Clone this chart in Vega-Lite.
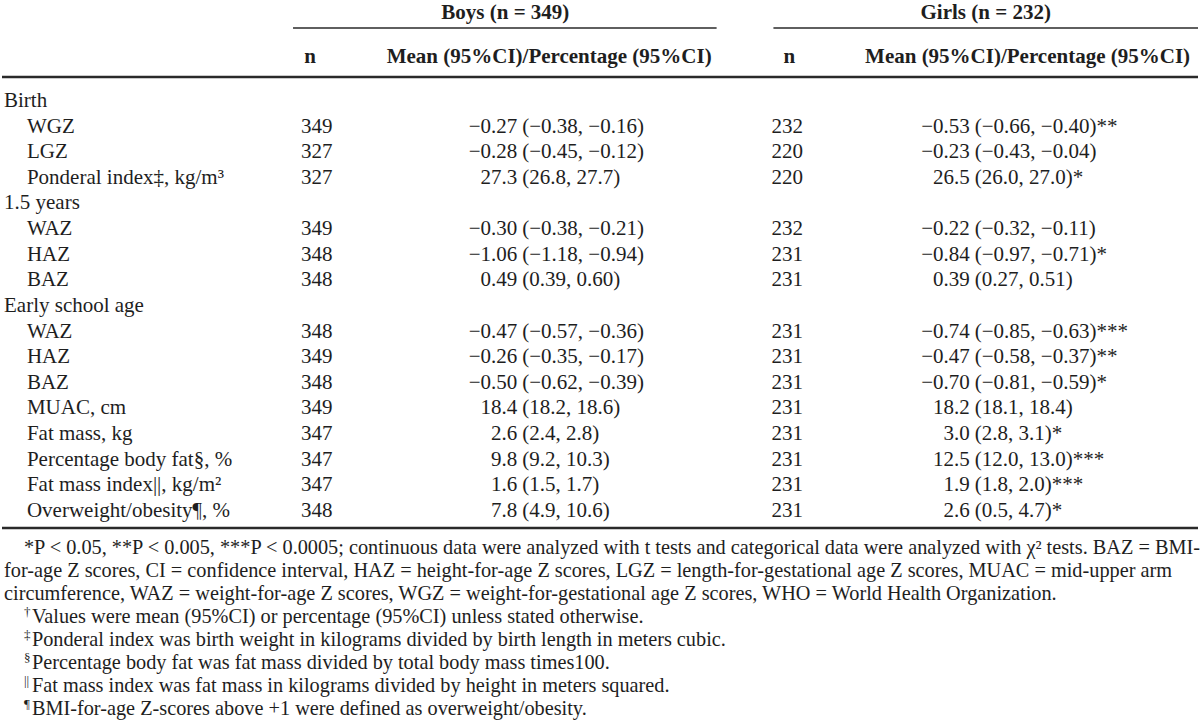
{
  "$schema": "https://vega.github.io/schema/vega-lite/v6.json",
  "width": 1200,
  "height": 720,
  "padding": 0,
  "autosize": {"type": "fit", "contains": "padding"},
  "background": "white",
  "config": {
    "view": {"stroke": null},
    "text": {"font": "Liberation Serif", "fontSize": 21, "color": "#1e1e1e", "baseline": "middle"}
  },
  "resolve": {"scale": {"y": "independent"}},
  "datasets": {
    "rows": [
      {"i": 0, "level": "group", "label": "Birth"},
      {"i": 1, "level": "item", "label": "WGZ", "bn": "349", "b1": "−0.27", "b2": "(−0.38, −0.16)", "gn": "232", "g1": "−0.53", "g2": "(−0.66, −0.40)**"},
      {"i": 2, "level": "item", "label": "LGZ", "bn": "327", "b1": "−0.28", "b2": "(−0.45, −0.12)", "gn": "220", "g1": "−0.23", "g2": "(−0.43, −0.04)"},
      {"i": 3, "level": "item", "label": "Ponderal index‡, kg/m³", "bn": "327", "b1": "27.3", "b2": "(26.8, 27.7)", "gn": "220", "g1": "26.5", "g2": "(26.0, 27.0)*"},
      {"i": 4, "level": "group", "label": "1.5 years"},
      {"i": 5, "level": "item", "label": "WAZ", "bn": "349", "b1": "−0.30", "b2": "(−0.38, −0.21)", "gn": "232", "g1": "−0.22", "g2": "(−0.32, −0.11)"},
      {"i": 6, "level": "item", "label": "HAZ", "bn": "348", "b1": "−1.06", "b2": "(−1.18, −0.94)", "gn": "231", "g1": "−0.84", "g2": "(−0.97, −0.71)*"},
      {"i": 7, "level": "item", "label": "BAZ", "bn": "348", "b1": "0.49", "b2": "(0.39, 0.60)", "gn": "231", "g1": "0.39", "g2": "(0.27, 0.51)"},
      {"i": 8, "level": "group", "label": "Early school age"},
      {"i": 9, "level": "item", "label": "WAZ", "bn": "348", "b1": "−0.47", "b2": "(−0.57, −0.36)", "gn": "231", "g1": "−0.74", "g2": "(−0.85, −0.63)***"},
      {"i": 10, "level": "item", "label": "HAZ", "bn": "349", "b1": "−0.26", "b2": "(−0.35, −0.17)", "gn": "231", "g1": "−0.47", "g2": "(−0.58, −0.37)**"},
      {"i": 11, "level": "item", "label": "BAZ", "bn": "348", "b1": "−0.50", "b2": "(−0.62, −0.39)", "gn": "231", "g1": "−0.70", "g2": "(−0.81, −0.59)*"},
      {"i": 12, "level": "item", "label": "MUAC, cm", "bn": "349", "b1": "18.4", "b2": "(18.2, 18.6)", "gn": "231", "g1": "18.2", "g2": "(18.1, 18.4)"},
      {"i": 13, "level": "item", "label": "Fat mass, kg", "bn": "347", "b1": "2.6", "b2": "(2.4, 2.8)", "gn": "231", "g1": "3.0", "g2": "(2.8, 3.1)*"},
      {"i": 14, "level": "item", "label": "Percentage body fat§, %", "bn": "347", "b1": "9.8", "b2": "(9.2, 10.3)", "gn": "231", "g1": "12.5", "g2": "(12.0, 13.0)***"},
      {"i": 15, "level": "item", "label": "Fat mass index||, kg/m²", "bn": "347", "b1": "1.6", "b2": "(1.5, 1.7)", "gn": "231", "g1": "1.9", "g2": "(1.8, 2.0)***"},
      {"i": 16, "level": "item", "label": "Overweight/obesity¶, %", "bn": "348", "b1": "7.8", "b2": "(4.9, 10.6)", "gn": "231", "g1": "2.6", "g2": "(0.5, 4.7)*"}
    ],
    "notes": [
      {"j": 0, "kind": "lead", "text": "*P < 0.05, **P < 0.005, ***P < 0.0005; continuous data were analyzed with t tests and categorical data were analyzed with χ² tests. BAZ = BMI-"},
      {"j": 1, "kind": "cont", "text": "for-age Z scores, CI = confidence interval, HAZ = height-for-age Z scores, LGZ = length-for-gestational age Z scores, MUAC = mid-upper arm"},
      {"j": 2, "kind": "cont", "text": "circumference, WAZ = weight-for-age Z scores, WGZ = weight-for-gestational age Z scores, WHO = World Health Organization."},
      {"j": 3, "kind": "sym", "sym": "†", "text": "Values were mean (95%CI) or percentage (95%CI) unless stated otherwise."},
      {"j": 4, "kind": "sym", "sym": "‡", "text": "Ponderal index was birth weight in kilograms divided by birth length in meters cubic."},
      {"j": 5, "kind": "sym", "sym": "§", "text": "Percentage body fat was fat mass divided by total body mass times100."},
      {"j": 6, "kind": "sym", "sym": "||", "text": "Fat mass index was fat mass in kilograms divided by height in meters squared."},
      {"j": 7, "kind": "sym", "sym": "¶", "text": "BMI-for-age Z-scores above +1 were defined as overweight/obesity."}
    ]
  },
  "layer": [
    {
      "data": {"name": "rows"},
      "transform": [{"filter": "datum.level === 'group'"}],
      "mark": {"type": "text", "align": "left"},
      "encoding": {
        "x": {"datum": 2, "type": "quantitative", "scale": {"domain": [0, 1200], "nice": false, "zero": false}, "axis": null},
        "y": {"field": "i", "type": "quantitative", "scale": {"domain": [-3.94, 24.16], "reverse": true, "nice": false, "zero": false}, "axis": null},
        "text": {"field": "label"}
      }
    },
    {
      "data": {"name": "rows"},
      "transform": [{"filter": "datum.level === 'item'"}],
      "mark": {"type": "text", "align": "left"},
      "encoding": {
        "x": {"datum": 25, "type": "quantitative", "scale": {"domain": [0, 1200], "nice": false, "zero": false}, "axis": null},
        "y": {"field": "i", "type": "quantitative", "scale": {"domain": [-3.94, 24.16], "reverse": true, "nice": false, "zero": false}, "axis": null},
        "text": {"field": "label"}
      }
    },
    {
      "data": {"name": "rows"},
      "transform": [{"filter": "datum.level === 'item'"}],
      "mark": {"type": "text", "align": "left"},
      "encoding": {
        "x": {"datum": 300, "type": "quantitative", "scale": {"domain": [0, 1200], "nice": false, "zero": false}, "axis": null},
        "y": {"field": "i", "type": "quantitative", "scale": {"domain": [-3.94, 24.16], "reverse": true, "nice": false, "zero": false}, "axis": null},
        "text": {"field": "bn"}
      }
    },
    {
      "data": {"name": "rows"},
      "transform": [{"filter": "datum.level === 'item'"}],
      "mark": {"type": "text", "align": "right"},
      "encoding": {
        "x": {"datum": 517, "type": "quantitative", "scale": {"domain": [0, 1200], "nice": false, "zero": false}, "axis": null},
        "y": {"field": "i", "type": "quantitative", "scale": {"domain": [-3.94, 24.16], "reverse": true, "nice": false, "zero": false}, "axis": null},
        "text": {"field": "b1"}
      }
    },
    {
      "data": {"name": "rows"},
      "transform": [{"filter": "datum.level === 'item'"}],
      "mark": {"type": "text", "align": "left", "dx": 5},
      "encoding": {
        "x": {"datum": 517, "type": "quantitative", "scale": {"domain": [0, 1200], "nice": false, "zero": false}, "axis": null},
        "y": {"field": "i", "type": "quantitative", "scale": {"domain": [-3.94, 24.16], "reverse": true, "nice": false, "zero": false}, "axis": null},
        "text": {"field": "b2"}
      }
    },
    {
      "data": {"name": "rows"},
      "transform": [{"filter": "datum.level === 'item'"}],
      "mark": {"type": "text", "align": "left"},
      "encoding": {
        "x": {"datum": 772, "type": "quantitative", "scale": {"domain": [0, 1200], "nice": false, "zero": false}, "axis": null},
        "y": {"field": "i", "type": "quantitative", "scale": {"domain": [-3.94, 24.16], "reverse": true, "nice": false, "zero": false}, "axis": null},
        "text": {"field": "gn"}
      }
    },
    {
      "data": {"name": "rows"},
      "transform": [{"filter": "datum.level === 'item'"}],
      "mark": {"type": "text", "align": "right"},
      "encoding": {
        "x": {"datum": 971, "type": "quantitative", "scale": {"domain": [0, 1200], "nice": false, "zero": false}, "axis": null},
        "y": {"field": "i", "type": "quantitative", "scale": {"domain": [-3.94, 24.16], "reverse": true, "nice": false, "zero": false}, "axis": null},
        "text": {"field": "g1"}
      }
    },
    {
      "data": {"name": "rows"},
      "transform": [{"filter": "datum.level === 'item'"}],
      "mark": {"type": "text", "align": "left", "dx": 5},
      "encoding": {
        "x": {"datum": 971, "type": "quantitative", "scale": {"domain": [0, 1200], "nice": false, "zero": false}, "axis": null},
        "y": {"field": "i", "type": "quantitative", "scale": {"domain": [-3.94, 24.16], "reverse": true, "nice": false, "zero": false}, "axis": null},
        "text": {"field": "g2"}
      }
    },
    {
      "data": {"values": [{}]},
      "mark": {"type": "text", "align": "center", "fontWeight": "bold"},
      "encoding": {
        "x": {"datum": 505, "type": "quantitative", "scale": {"domain": [0, 1200], "nice": false, "zero": false}, "axis": null},
        "y": {"datum": 13, "type": "quantitative", "scale": {"domain": [0, 720], "reverse": true, "nice": false, "zero": false}, "axis": null},
        "text": {"value": "Boys (n = 349)"}
      }
    },
    {
      "data": {"values": [{}]},
      "mark": {"type": "text", "align": "center", "fontWeight": "bold"},
      "encoding": {
        "x": {"datum": 987, "type": "quantitative", "scale": {"domain": [0, 1200], "nice": false, "zero": false}, "axis": null},
        "y": {"datum": 13, "type": "quantitative", "scale": {"domain": [0, 720], "reverse": true, "nice": false, "zero": false}, "axis": null},
        "text": {"value": "Girls (n = 232)"}
      }
    },
    {
      "data": {"values": [{}]},
      "mark": {"type": "text", "align": "center", "fontWeight": "bold"},
      "encoding": {
        "x": {"datum": 309, "type": "quantitative", "scale": {"domain": [0, 1200], "nice": false, "zero": false}, "axis": null},
        "y": {"datum": 57, "type": "quantitative", "scale": {"domain": [0, 720], "reverse": true, "nice": false, "zero": false}, "axis": null},
        "text": {"value": "n"}
      }
    },
    {
      "data": {"values": [{}]},
      "mark": {"type": "text", "align": "center", "fontWeight": "bold"},
      "encoding": {
        "x": {"datum": 790, "type": "quantitative", "scale": {"domain": [0, 1200], "nice": false, "zero": false}, "axis": null},
        "y": {"datum": 57, "type": "quantitative", "scale": {"domain": [0, 720], "reverse": true, "nice": false, "zero": false}, "axis": null},
        "text": {"value": "n"}
      }
    },
    {
      "data": {"values": [{}]},
      "mark": {"type": "text", "align": "center", "fontWeight": "bold"},
      "encoding": {
        "x": {"datum": 549, "type": "quantitative", "scale": {"domain": [0, 1200], "nice": false, "zero": false}, "axis": null},
        "y": {"datum": 57, "type": "quantitative", "scale": {"domain": [0, 720], "reverse": true, "nice": false, "zero": false}, "axis": null},
        "text": {"value": "Mean (95%CI)/Percentage (95%CI)"}
      }
    },
    {
      "data": {"values": [{}]},
      "mark": {"type": "text", "align": "center", "fontWeight": "bold"},
      "encoding": {
        "x": {"datum": 1029, "type": "quantitative", "scale": {"domain": [0, 1200], "nice": false, "zero": false}, "axis": null},
        "y": {"datum": 57, "type": "quantitative", "scale": {"domain": [0, 720], "reverse": true, "nice": false, "zero": false}, "axis": null},
        "text": {"value": "Mean (95%CI)/Percentage (95%CI)"}
      }
    },
    {
      "data": {"values": [{}]},
      "mark": {"type": "rule", "strokeWidth": 1.5, "color": "#2a2a2a"},
      "encoding": {
        "x": {"datum": 292, "type": "quantitative", "scale": {"domain": [0, 1200], "nice": false, "zero": false}, "axis": null},
        "x2": {"datum": 717},
        "y": {"datum": 28, "type": "quantitative", "scale": {"domain": [0, 720], "reverse": true, "nice": false, "zero": false}, "axis": null}
      }
    },
    {
      "data": {"values": [{}]},
      "mark": {"type": "rule", "strokeWidth": 1.5, "color": "#2a2a2a"},
      "encoding": {
        "x": {"datum": 774, "type": "quantitative", "scale": {"domain": [0, 1200], "nice": false, "zero": false}, "axis": null},
        "x2": {"datum": 1200},
        "y": {"datum": 28, "type": "quantitative", "scale": {"domain": [0, 720], "reverse": true, "nice": false, "zero": false}, "axis": null}
      }
    },
    {
      "data": {"values": [{}]},
      "mark": {"type": "rule", "strokeWidth": 2.5, "color": "#2a2a2a"},
      "encoding": {
        "x": {"datum": 0, "type": "quantitative", "scale": {"domain": [0, 1200], "nice": false, "zero": false}, "axis": null},
        "x2": {"datum": 1200},
        "y": {"datum": 77, "type": "quantitative", "scale": {"domain": [0, 720], "reverse": true, "nice": false, "zero": false}, "axis": null}
      }
    },
    {
      "data": {"values": [{}]},
      "mark": {"type": "rule", "strokeWidth": 2.5, "color": "#2a2a2a"},
      "encoding": {
        "x": {"datum": 0, "type": "quantitative", "scale": {"domain": [0, 1200], "nice": false, "zero": false}, "axis": null},
        "x2": {"datum": 1200},
        "y": {"datum": 528, "type": "quantitative", "scale": {"domain": [0, 720], "reverse": true, "nice": false, "zero": false}, "axis": null}
      }
    },
    {
      "data": {"name": "notes"},
      "transform": [{"filter": "datum.kind === 'lead'"}],
      "mark": {"type": "text", "align": "left", "fontSize": 20.3},
      "encoding": {
        "x": {"datum": 22, "type": "quantitative", "scale": {"domain": [0, 1200], "nice": false, "zero": false}, "axis": null},
        "y": {"field": "j", "type": "quantitative", "scale": {"domain": [-23.826, 7.478], "reverse": true, "nice": false, "zero": false}, "axis": null},
        "text": {"field": "text"}
      }
    },
    {
      "data": {"name": "notes"},
      "transform": [{"filter": "datum.kind === 'cont'"}],
      "mark": {"type": "text", "align": "left", "fontSize": 20.3},
      "encoding": {
        "x": {"datum": 2, "type": "quantitative", "scale": {"domain": [0, 1200], "nice": false, "zero": false}, "axis": null},
        "y": {"field": "j", "type": "quantitative", "scale": {"domain": [-23.826, 7.478], "reverse": true, "nice": false, "zero": false}, "axis": null},
        "text": {"field": "text"}
      }
    },
    {
      "data": {"name": "notes"},
      "transform": [{"filter": "datum.kind === 'sym'"}],
      "mark": {"type": "text", "align": "left", "fontSize": 13, "dy": -5},
      "encoding": {
        "x": {"datum": 22, "type": "quantitative", "scale": {"domain": [0, 1200], "nice": false, "zero": false}, "axis": null},
        "y": {"field": "j", "type": "quantitative", "scale": {"domain": [-23.826, 7.478], "reverse": true, "nice": false, "zero": false}, "axis": null},
        "text": {"field": "sym"}
      }
    },
    {
      "data": {"name": "notes"},
      "transform": [{"filter": "datum.kind === 'sym'"}],
      "mark": {"type": "text", "align": "left", "fontSize": 20.3},
      "encoding": {
        "x": {"datum": 30, "type": "quantitative", "scale": {"domain": [0, 1200], "nice": false, "zero": false}, "axis": null},
        "y": {"field": "j", "type": "quantitative", "scale": {"domain": [-23.826, 7.478], "reverse": true, "nice": false, "zero": false}, "axis": null},
        "text": {"field": "text"}
      }
    }
  ]
}
